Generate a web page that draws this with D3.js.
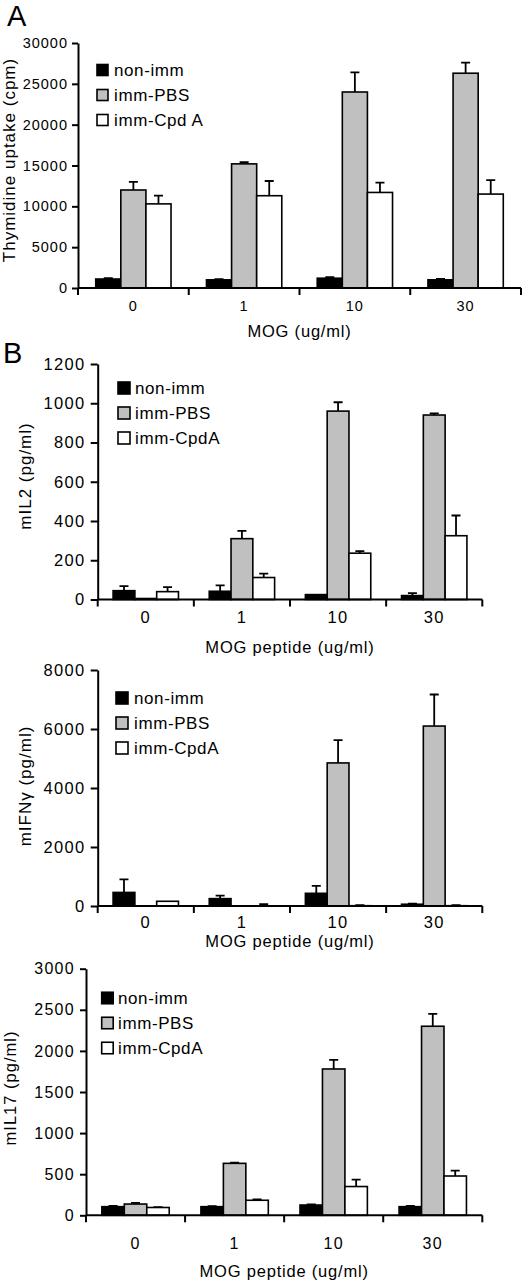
<!DOCTYPE html>
<html><head><meta charset="utf-8">
<script src="https://cdn.jsdelivr.net/npm/d3@7"></script>
<style>
body{margin:0;background:#fff}
svg text{font-family:"Liberation Sans",Arial,Helvetica,sans-serif;fill:#000}
</style></head><body>
<svg id="chart" width="522" height="1280"></svg>
<script>
// ---------- DATA ----------
const categories = ["0","1","10","30"];
const seriesA = ["non-imm","imm-PBS","imm-Cpd A"];
const seriesB = ["non-imm","imm-PBS","imm-CpdA"];

// Panel A: thymidine uptake (cpm)
const thyNonImm = [1100, 1000, 1200, 1000];
const thyNonImmErr = [100, 80, 120, 100];
const thyPBS = [12000, 15200, 24000, 26300];
const thyPBSErr = [1000, 200, 2400, 1300];
const thyCpdA = [10300, 11300, 11700, 11500];
const thyCpdAErr = [1000, 1800, 1200, 1700];
const thyTicks = [0, 5000, 10000, 15000, 20000, 25000, 30000];

// Panel B: mIL2 (pg/ml)
const il2NonImm = [45, 42, 25, 20];
const il2NonImmErr = [23, 30, 0, 12];
const il2PBS = [5, 310, 960, 940];
const il2PBSErr = [0, 40, 45, 8];
const il2CpdA = [40, 112, 236, 325];
const il2CpdAErr = [23, 20, 10, 103];
const il2Ticks = [0, 200, 400, 600, 800, 1000, 1200];

// mIFNγ (pg/ml)
const ifnNonImm = [460, 250, 430, 60];
const ifnNonImmErr = [440, 100, 250, 20];
const ifnPBS = [0, 0, 4850, 6100];
const ifnPBSErr = [0, 0, 770, 1070];
const ifnCpdA = [160, 0, 10, 10];
const ifnCpdAErr = [0, 60, 15, 20];
const ifnTicks = [0, 2000, 4000, 6000, 8000];

// mIL17 (pg/ml)
const il17NonImm = [105, 105, 125, 105];
const il17NonImmErr = [8, 5, 8, 10];
const il17PBS = [137, 632, 1780, 2300];
const il17PBSErr = [15, 10, 110, 150];
const il17CpdA = [95, 183, 350, 478];
const il17CpdAErr = [5, 10, 85, 65];
const il17Ticks = [0, 500, 1000, 1500, 2000, 2500, 3000];

const fills = ["#000000", "#c0c0c0", "#ffffff"];

// ---------- LAYOUT ----------
const panels = [
  {series: seriesA, vals:[thyNonImm,thyPBS,thyCpdA], errs:[thyNonImmErr,thyPBSErr,thyCpdAErr], ticks: thyTicks,
   left:78, right:521, y0:288, yTop:43, ytitle:"Thymidine uptake (cpm)", ytx:15, yty:160, yfs:17,
   tfs:14.5, tls:1, tpad:4, ttick:6,
   xlabY:311, xtitle:"MOG (ug/ml)", xtitleY:337, leg:{x:97, y:70, tx:114, s:11}},
  {series: seriesB, vals:[il2NonImm,il2PBS,il2CpdA], errs:[il2NonImmErr,il2PBSErr,il2CpdAErr], ticks: il2Ticks,
   left:97.7, right:482.3, y0:599.5, yTop:364, ytitle:"mIL2 (pg/ml)", ytx:31, yty:476, yfs:17,
   tfs:16.5, tls:1.4, tpad:5, ttick:7,
   xlabY:623, xtitle:"MOG peptide (ug/ml)", xtitleY:653, leg:{x:118, y:388, tx:135, s:12}},
  {series: seriesB, vals:[ifnNonImm,ifnPBS,ifnCpdA], errs:[ifnNonImmErr,ifnPBSErr,ifnCpdAErr], ticks: ifnTicks,
   left:97.7, right:482.3, y0:906, yTop:670, ytitle:"mIFNγ (pg/ml)", ytx:31, yty:786, yfs:17,
   tfs:16.5, tls:1.4, tpad:5, ttick:7,
   xlabY:928, xtitle:"MOG peptide (ug/ml)", xtitleY:947, leg:{x:116, y:698, tx:134, s:12}},
  {series: seriesB, vals:[il17NonImm,il17PBS,il17CpdA], errs:[il17NonImmErr,il17PBSErr,il17CpdAErr], ticks: il17Ticks,
   left:86, right:482.3, y0:1215.3, yTop:968.7, ytitle:"mIL17 (pg/ml)", ytx:16, yty:1088, yfs:16.5,
   tfs:16, tls:1.3, tpad:5, ttick:6,
   xlabY:1249, xtitle:"MOG peptide (ug/ml)", xtitleY:1277, leg:{x:101.7, y:998, tx:118, s:11.5}}
];

const svg = d3.select("#chart");

svg.append("text").attr("x",7).attr("y",26).attr("font-size",29).text("A");
svg.append("text").attr("x",3).attr("y",363).attr("font-size",29).text("B");

panels.forEach(p => {
  const g = svg.append("g");
  const y = d3.scaleLinear().domain([0, p.ticks[p.ticks.length-1]]).range([p.y0, p.yTop]);
  const x0 = d3.scaleBand().domain(categories).range([p.left, p.right]).paddingInner(0).paddingOuter(0);
  const pad = x0.bandwidth()*0.16;
  const x1 = d3.scaleBand().domain(p.series).range([pad, x0.bandwidth()-pad]).padding(0);

  // bars
  p.series.forEach((s, si) => {
    const data = categories.map((c, ci) => ({c, v: p.vals[si][ci], e: p.errs[si][ci]}));
    const gg = g.append("g");
    gg.selectAll("path.err").data(data.filter(d => d.e > 0)).join("path")
      .attr("d", d => {
        const cx = x0(d.c) + x1(s) + x1.bandwidth()/2;
        const yt = y(d.v + d.e), yb = y(d.v);
        return `M${cx},${yb}V${yt}M${cx-4.5},${yt}H${cx+4.5}`;
      })
      .attr("stroke","#000").attr("stroke-width",1.8).attr("fill","none");
    gg.selectAll("rect").data(data).join("rect")
      .attr("x", d => x0(d.c) + x1(s))
      .attr("width", x1.bandwidth())
      .attr("y", d => y(d.v))
      .attr("height", d => Math.max(0, y(0) - y(d.v)))
      .attr("fill", fills[si]).attr("stroke","#000").attr("stroke-width",1.6);
  });

  // y axis
  const ya = g.append("g").attr("transform",`translate(${p.left},0)`)
    .call(d3.axisLeft(y).tickValues(p.ticks).tickSize(p.ttick).tickSizeOuter(0).tickPadding(p.tpad).tickFormat(d3.format("d")));
  ya.select(".domain").attr("stroke-width",2);
  ya.selectAll(".tick line").attr("stroke-width",2);
  ya.selectAll(".tick text").attr("font-size",p.tfs).attr("font-family",null).attr("letter-spacing",p.tls+"px");

  // x axis (ticks at band boundaries)
  const xa = g.append("g").attr("transform",`translate(0,${p.y0})`);
  xa.append("path").attr("d",`M${p.left},0H${p.right}`).attr("stroke","#000").attr("stroke-width",2);
  const bounds = categories.map(c => x0(c)).concat([p.right]);
  xa.selectAll("line").data(bounds).join("line")
    .attr("x1", d=>d).attr("x2", d=>d).attr("y1",0).attr("y2",7)
    .attr("stroke","#000").attr("stroke-width",2);
  g.selectAll("text.xl").data(categories).join("text").attr("class","xl")
    .attr("x", c => x0(c) + x0.bandwidth()/2).attr("y", p.xlabY)
    .attr("text-anchor","middle").attr("font-size",p.tfs).attr("letter-spacing",p.tls+"px").text(c => c);
  g.append("text").attr("x", (p.left+p.right)/2).attr("y", p.xtitleY)
    .attr("text-anchor","middle").attr("font-size",16.5).attr("letter-spacing","0.8px").text(p.xtitle);

  // y title
  g.append("text").attr("transform",`translate(${p.ytx},${p.yty}) rotate(-90)`)
    .attr("text-anchor","middle").attr("font-size",p.yfs).attr("letter-spacing","1px").text(p.ytitle);

  // legend
  p.series.forEach((s, si) => {
    const cy = p.leg.y + si*25;
    g.append("rect").attr("x",p.leg.x).attr("y",cy - p.leg.s/2).attr("width",p.leg.s).attr("height",p.leg.s)
      .attr("fill",fills[si]).attr("stroke","#000").attr("stroke-width",1.6);
    g.append("text").attr("x",p.leg.tx).attr("y",cy+6).attr("font-size",17).attr("letter-spacing","0.6px").text(s);
  });
});
</script>
</body></html>
